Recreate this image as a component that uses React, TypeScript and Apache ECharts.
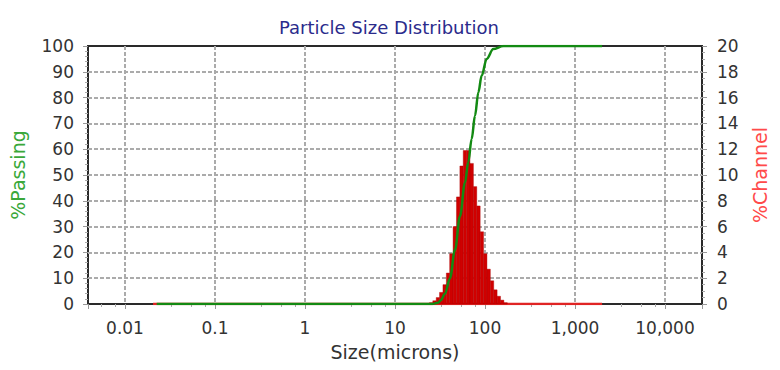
import React, { useEffect, useRef } from "react";
import * as echarts from "echarts";

// ---- Data ----
const binEdges = [24.1, 26.3, 28.7, 31.25, 34.1, 37.2, 40.5, 44.2, 48.2, 52.6, 57.3, 62.5, 68.1, 74.3, 81.0, 88.4, 96.4, 105.1, 114.6, 125.0, 136.3, 148.7, 162.1, 176.8];
const channelPct = [0.1, 0.25, 0.5, 0.9, 1.5, 2.4, 3.9, 6.0, 8.3, 10.7, 11.9, 11.9, 10.9, 9.1, 7.6, 5.6, 3.9, 2.7, 1.8, 1.1, 0.6, 0.3, 0.1];

const channelBaseSizes = [0.0205, 2000];
const channelBaseValues = [0, 0];

const passingSizes = [0.0225, 25.8, 30.0, 32.4, 35.9, 40.8, 46.4, 52.7, 59.9, 65.2, 71.1, 77.4, 84.3, 91.8, 104.4, 123.6, 159.6, 2000];
const passingPct = [0, 0, 0.5, 1.5, 4, 10, 21, 34, 47, 55, 64, 73, 82, 88.5, 95, 98.8, 100, 100];

const xMin = 0.00388;
const xMax = 25770;
const leftTicks = { min: 0, max: 100, interval: 10 };
const rightTicks = { min: 0, max: 20, interval: 2 };

const FONT = "DejaVu Sans";

export default function App() {
  const ref = useRef<HTMLDivElement>(null);

  useEffect(() => {
    if (!ref.current) return;
    const chart = echarts.init(ref.current, null, { renderer: "svg" });

    const histData = channelPct.map((v, i) => [binEdges[i], binEdges[i + 1], v]);
    const baseData = channelBaseSizes.map((s, i) => [s, channelBaseValues[i]]);
    const passData = passingSizes.map((s, i) => [s, passingPct[i]]);

    const gridLine = {
      show: true,
      showMinLine: false,
      showMaxLine: false,
      lineStyle: { color: "#ababab", width: 2, type: [4, 2] as any },
    };
    const labelStyle = { color: "#333", fontSize: 17, fontFamily: FONT };

    chart.setOption({
      animation: false,
      title: {
        text: "Particle Size Distribution",
        left: 384,
        textAlign: "center",
        top: 13,
        textStyle: { color: "#2b2b8c", fontSize: 18, fontWeight: "normal", fontFamily: FONT },
      },
      grid: {
        left: 88,
        right: 78,
        top: 46,
        bottom: 66,
        show: true,
        borderColor: "#2a2a2a",
        borderWidth: 2,
        backgroundColor: "#fff",
      },
      xAxis: {
        type: "log",
        logBase: 10,
        min: xMin,
        max: xMax,
        name: "Size(microns)",
        nameLocation: "middle",
        nameGap: 38,
        nameTextStyle: { color: "#333", fontSize: 19, fontFamily: FONT },
        axisLine: { show: false },
        axisTick: { show: true, length: 5, lineStyle: { color: "#999" } },
        minorTick: { show: true, splitNumber: 4, length: 3, lineStyle: { color: "#aaa" } },
        splitLine: gridLine,
        axisLabel: {
          ...labelStyle,
          margin: 15,
          showMinLabel: false,
          showMaxLabel: false,
          formatter: (v: number) => {
            const r = Number(Number(v).toPrecision(4));
            return r >= 1000 ? r.toLocaleString("en-US") : String(r);
          },
        },
      },
      yAxis: [
        {
          type: "value",
          min: leftTicks.min,
          max: leftTicks.max,
          interval: leftTicks.interval,
          name: "%Passing",
          nameLocation: "middle",
          nameGap: 61,
          nameRotate: 90,
          nameTextStyle: { color: "#3aa83a", fontSize: 19, fontFamily: FONT },
          axisLine: { show: false },
          axisTick: { show: true, length: 5, lineStyle: { color: "#999" } },
          minorTick: { show: true, splitNumber: 5, length: 3, lineStyle: { color: "#aaa" } },
          splitLine: gridLine,
          axisLabel: { ...labelStyle, margin: 14 },
        },
        {
          type: "value",
          position: "right",
          min: rightTicks.min,
          max: rightTicks.max,
          interval: rightTicks.interval,
          name: "%Channel",
          nameLocation: "middle",
          nameGap: 48,
          nameRotate: 90,
          nameTextStyle: { color: "#ff4a4a", fontSize: 19, fontFamily: FONT },
          axisLine: { show: false },
          axisTick: { show: true, length: 5, lineStyle: { color: "#999" } },
          minorTick: { show: true, splitNumber: 4, length: 3, lineStyle: { color: "#aaa" } },
          splitLine: { show: false },
          axisLabel: { ...labelStyle, margin: 15 },
        },
      ],
      series: [
        {
          type: "line",
          yAxisIndex: 1,
          data: baseData,
          symbol: "none",
          lineStyle: { color: "#e02424", width: 2.5 },
          z: 3,
        },
        {
          type: "custom",
          yAxisIndex: 1,
          encode: { x: [0, 1], y: 2 },
          data: histData,
          z: 4,
          renderItem: (params: any, api: any) => {
            const lo = api.value(0);
            const hi = api.value(1);
            const v = api.value(2);
            const p1 = api.coord([lo, v]);
            const p0 = api.coord([hi, 0]);
            return {
              type: "rect",
              shape: { x: p1[0], y: p1[1], width: p0[0] - p1[0], height: p0[1] - p1[1] },
              style: { fill: "#d00000", stroke: "#a80000", lineWidth: 0.4 },
            };
          },
        },
        {
          type: "line",
          yAxisIndex: 0,
          data: passData,
          symbol: "none",
          smooth: 0.35,
          smoothMonotone: "x",
          lineStyle: { color: "#138a13", width: 2.5 },
          z: 5,
        },
      ],
    });

    return () => chart.dispose();
  }, []);

  return (
    <div
      ref={ref}
      style={{ position: "fixed", left: 0, top: 0, width: 780, height: 370, background: "#fff" }}
    />
  );
}
